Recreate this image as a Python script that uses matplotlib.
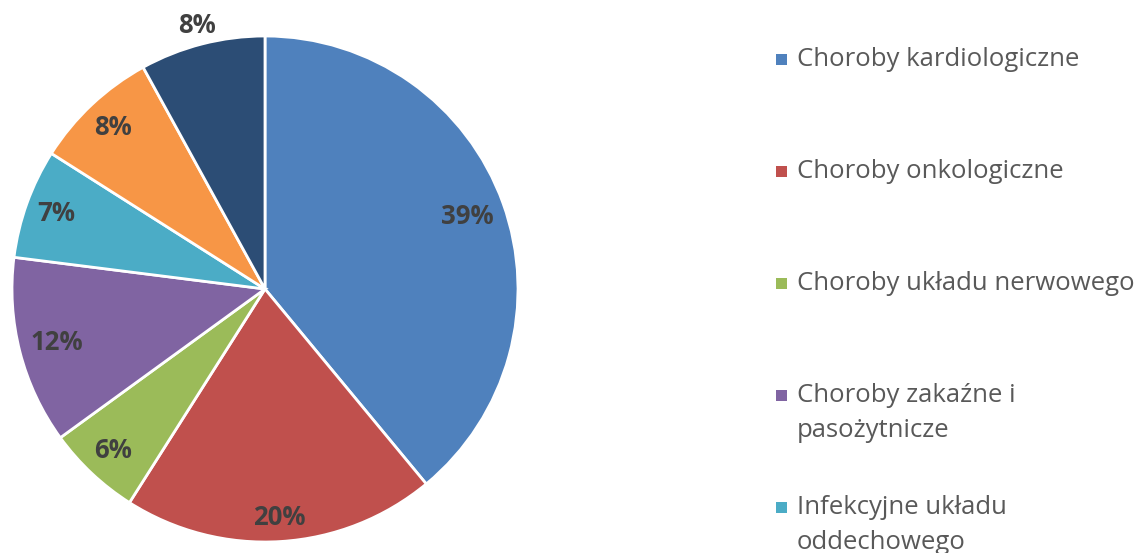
import matplotlib.pyplot as plt
from matplotlib.patches import Rectangle
import numpy as np

categories = [
    "Choroby kardiologiczne",
    "Choroby onkologiczne",
    "Choroby układu nerwowego",
    "Choroby zakaźne i\npasożytnicze",
    "Infekcyjne układu\noddechowego",
    "Choroby układu\npokarmowego",
    "Inne",
]
shares = [39, 20, 6, 12, 7, 8, 8]
colors = ["#4F81BD", "#C0504D", "#9BBB59", "#8064A2", "#4BACC6", "#F79646", "#2C4D75"]

plt.rcParams['font.family'] = ['Open Sans', 'DejaVu Sans']

W, H = 1136, 553
fig = plt.figure(figsize=(W / 100, H / 100), dpi=100)

# pie centred at (265, 289) px with radius 253 px
cx, cy, r = 265, 289, 253
ax = fig.add_axes([(cx - r) / W, (H - cy - r) / H, 2 * r / W, 2 * r / H])
wedges, texts, autotexts = ax.pie(
    shares, colors=colors, startangle=90, counterclock=False,
    autopct=lambda p: f"{p:.0f}%", pctdistance=0.85,
    wedgeprops=dict(edgecolor="white", linewidth=2),
    textprops=dict(color="#404040", fontsize=18.5, fontweight="bold"),
)
ax.set_xlim(-1, 1)
ax.set_ylim(-1, 1)
ax.set_aspect("equal")
ax.axis("off")

# "inside end" labels: push each label box against an inner circle
fig.canvas.draw()
renderer = fig.canvas.get_renderer()
px_per_unit = r
inner = 0.965
for i, t in enumerate(autotexts):
    x, y = t.get_position()
    theta = np.arctan2(y, x)
    bb = t.get_window_extent(renderer)
    hw = bb.width / 2 / px_per_unit
    hh = bb.height / 2 / px_per_unit
    if i == len(autotexts) - 1:
        # last label sits just outside the slice
        d = 1.0 + hh + 0.02
    else:
        d = inner - (hw * abs(np.cos(theta)) + hh * abs(np.sin(theta)))
    t.set_position((d * np.cos(theta), d * np.sin(theta)))

# legend, one entry every 112 px, lines 35 px apart
for i, (lab, col) in enumerate(zip(categories, colors)):
    base = 66 + 112 * i
    fig.add_artist(Rectangle((776 / W, 1 - (base - 1) / H), 11 / W, 11 / H,
                             transform=fig.transFigure, facecolor=col,
                             edgecolor="none"))
    for j, line in enumerate(lab.split("\n")):
        fig.text(797 / W, 1 - (base + 35 * j) / H, line, color="#595959",
                 fontsize=18.5, va="baseline", ha="left")

fig.savefig("out.png", dpi=100)
